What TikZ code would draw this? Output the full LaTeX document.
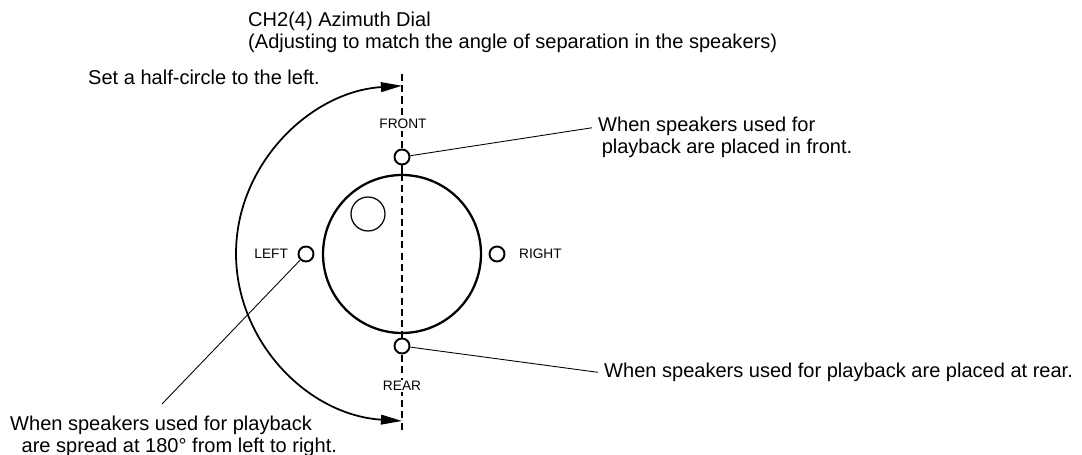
\documentclass[tikz,border=0pt]{standalone}
\usepackage{fontspec}
\setmainfont{Liberation Sans}
\usepackage{tikz}
\usetikzlibrary{arrows.meta, positioning}
\newcommand{\txtsize}{\fontsize{11.4}{12}\selectfont}
\newcommand{\lblsize}{\fontsize{7.8}{9}\selectfont}

\begin{document}
\begin{tikzpicture}[
    x=0.02cm, y=-0.02cm,
    txt/.style={anchor=west, inner sep=0.5pt, text height=8.2pt, text depth=2.6pt, font=\txtsize},
    lbl/.style={inner sep=1pt, font=\lblsize},
    spk/.style={circle, draw, line width=1.1pt, minimum size=0.3cm, inner sep=0pt},
    dialbody/.style={circle, draw, line width=1.3pt, minimum size=3.16cm, inner sep=0pt},
    knob/.style={circle, draw, line width=0.7pt, minimum size=0.68cm, inner sep=0pt},
    axis/.style={line width=0.8pt, dash pattern=on 4pt off 2.4pt},
    lead/.style={line width=0.5pt, shorten >=3pt},
    sweep/.style={{Triangle[length=12pt, width=5.5pt]}-{Triangle[length=12pt, width=5.5pt]}, line width=1pt}
]
\useasboundingbox (0,0) rectangle (1082,455);

% title
\node[txt] (title1) at (247,22) {CH2(4) Azimuth Dial};
\node[txt, below=0pt of title1.south west, anchor=north west] (title2)
    {(Adjusting to match the angle of separation in the speakers)};

% centre line
\coordinate (dtop) at (402,74);
\coordinate (dbot) at (402,432);
\draw[axis] (dtop) -- (dbot);

% dial
\node[dialbody, fill=white] (dial) at (402,254) {};
\draw[axis] (dial.north) -- (dial.south);
\node[knob] (knob) at (368,214) {};

% speaker marks
\node[spk, fill=white] (fspk) at (402,157) {};
\node[spk, fill=white] (rspk) at (402,346) {};
\node[spk] (lspk) at (306,254) {};
\node[spk] (rtspk) at (497,254) {};
\draw[line width=1pt] (fspk) -- (dial);
\draw[line width=1pt] (dial) -- (rspk);

\node[lbl, fill=white] (front) at (403,124) {FRONT};
\node[lbl, fill=white] (rear) at (402,386) {REAR};
\node[lbl, anchor=east] (left) at (290,254) {LEFT};
\node[lbl, anchor=west] (right) at (517,254) {RIGHT};

% half-circle sweep
\node[txt] (half) at (87,80) {Set a half-circle to the left.};
\coordinate (arcbot) at (402,421);
\draw[sweep] (arcbot) arc[start angle=93.87, end angle=266.13, x radius=178, y radius=168];

% notes
\node[txt] (front1) at (597,127) {When speakers used for};
\node[txt, below=0pt of front1.south west, anchor=north west, xshift=2pt] (front2)
    {playback are placed in front.};
\draw[lead] (fspk) -- (front1.west);

\node[txt] (rear1) at (603,373) {When speakers used for playback are placed at rear.};
\draw[lead] (rspk) -- (rear1.west);

\node[txt] (spread1) at (9,426) {When speakers used for playback};
\node[txt, below=0pt of spread1.south west, anchor=north west, xshift=6.5pt] (spread2)
    {are spread at 180° from left to right.};
\coordinate (spreadtip) at (162,404);
\draw[lead, shorten >=0pt] (lspk) -- (spreadtip);
\end{tikzpicture}
\end{document}
